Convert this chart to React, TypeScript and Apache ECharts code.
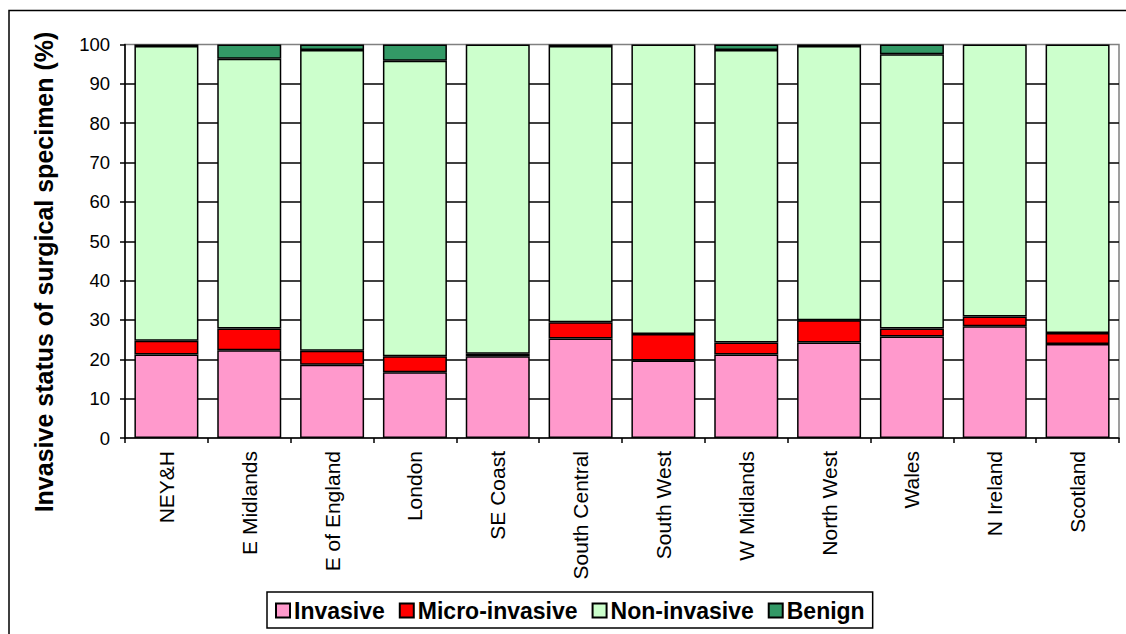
import React, { useEffect, useRef } from "react";
import * as echarts from "echarts";

const categories = [
  "NEY&H",
  "E Midlands",
  "E of England",
  "London",
  "SE Coast",
  "South Central",
  "South West",
  "W Midlands",
  "North West",
  "Wales",
  "N Ireland",
  "Scotland",
];
const invasive = [21.2, 22.3, 18.6, 16.7, 20.8, 25.3, 19.7, 21.2, 24.3, 25.8, 28.4, 23.9];
const microInvasive = [3.5, 5.5, 3.6, 4.1, 0.6, 4.1, 6.7, 3.1, 5.6, 2.0, 2.5, 2.8];
const nonInvasive = [74.9, 68.6, 76.4, 75.1, 78.6, 70.2, 73.6, 74.3, 69.7, 69.7, 69.1, 73.3];
const benign = [0.4, 3.6, 1.4, 4.1, 0, 0.4, 0, 1.4, 0.4, 2.5, 0, 0];

const seriesNames = ["Invasive", "Micro-invasive", "Non-invasive", "Benign"];
const seriesColors = ["#FF99CC", "#FF0000", "#CCFFCC", "#339966"];
const yMin = 0;
const yMax = 100;
const yInterval = 10;
const yTitle = "Invasive status of surgical specimen (%)";

const FONT = "'Liberation Sans', Arial, sans-serif";

export default function App() {
  const ref = useRef<HTMLDivElement>(null);
  useEffect(() => {
    if (!ref.current) return;
    const chart = echarts.init(ref.current, undefined, { renderer: "svg" });
    const allData = [invasive, microInvasive, nonInvasive, benign];
    chart.setOption({
      animation: false,
      backgroundColor: "#ffffff",
      textStyle: { fontFamily: FONT },
      grid: {
        left: 125,
        right: 7,
        top: 44.5,
        bottom: 196,
        show: true,
        borderColor: "#808080",
        borderWidth: 1.5,
        backgroundColor: "transparent",
        containLabel: false,
      },
      legend: {
        data: seriesNames,
        left: 267,
        top: 592,
        orient: "horizontal",
        itemWidth: 14,
        itemHeight: 14,
        itemGap: 14,
        padding: [7, 8, 6, 8],
        borderColor: "#000000",
        borderWidth: 1.5,
        backgroundColor: "#ffffff",
        icon: "rect",
        textStyle: {
          fontFamily: FONT,
          fontSize: 23,
          fontWeight: "bold",
          color: "#000000",
          padding: [0, 0, 0, -1],
        },
      },
      xAxis: {
        type: "category",
        data: categories,
        boundaryGap: true,
        axisLine: { show: true, lineStyle: { color: "#000000", width: 1.5 } },
        axisTick: {
          show: true,
          inside: false,
          length: 5,
          alignWithLabel: false,
          lineStyle: { color: "#000000", width: 1.5 },
        },
        axisLabel: {
          rotate: 90,
          margin: 13,
          fontSize: 21,
          fontFamily: FONT,
          color: "#000000",
          interval: 0,
        },
        splitLine: { show: false },
      },
      yAxis: {
        type: "value",
        min: yMin,
        max: yMax,
        interval: yInterval,
        axisLine: { show: true, lineStyle: { color: "#000000", width: 1.5 } },
        axisTick: {
          show: true,
          inside: false,
          length: 5,
          lineStyle: { color: "#000000", width: 1.5 },
        },
        axisLabel: {
          margin: 15,
          fontSize: 18.5,
          fontFamily: FONT,
          color: "#000000",
        },
        splitLine: {
          show: true,
          showMinLine: false,
          showMaxLine: false,
          lineStyle: { color: "#000000", width: 1.5 },
        },
      },
      series: seriesNames.map((name, i) => ({
        name,
        type: "bar",
        stack: "total",
        barWidth: 64,
        data: allData[i].map((v) => (v === 0 ? "-" : v)),
        itemStyle: {
          color: seriesColors[i],
          borderColor: "#000000",
          borderWidth: 1.5,
        },
        emphasis: { disabled: true },
      })),
      graphic: [
        {
          type: "rect",
          shape: { x: 9, y: 10.5, width: 1140, height: 660 },
          style: { fill: "none", stroke: "#000000", lineWidth: 1.5 },
          silent: true,
          z: 100,
        },
        {
          type: "text",
          x: 44,
          y: 272,
          rotation: Math.PI / 2,
          style: {
            text: yTitle,
            fontFamily: FONT,
            fontSize: 25,
            fontWeight: "bold",
            fill: "#000000",
            align: "center",
            verticalAlign: "middle",
          },
          silent: true,
        },
      ],
    });
    return () => chart.dispose();
  }, []);
  return (
    <div
      ref={ref}
      style={{ position: "fixed", left: 0, top: 0, width: 1126, height: 634 }}
    />
  );
}
